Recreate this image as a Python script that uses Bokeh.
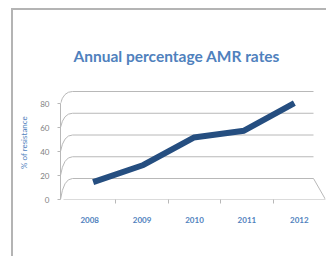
from bokeh.plotting import figure
from bokeh.models import Range1d, FixedTicker
from bokeh.embed import file_html
from bokeh.resources import INLINE

years = ["2008", "2009", "2010", "2011", "2012"]
amr_rates = [6, 21, 45, 51, 75]
y_ticks = [0, 20, 40, 60, 80]
title_text = "Annual percentage AMR rates"
y_label = "% of resistance"

# ---- geometry (canvas pixels; canvas origin = page (13, 10)) ----
W, H = 316, 248
FL, FR, FT, FB = 47, 312, 75, 189           # plot frame edges
FRONT = dict(x0=50, x1=312, y0=189, y1=93)  # px of cat -0.5 / 4.5 and value 0 / 80
BACK = dict(x0=59, x1=300, y0=168, y1=81)
MID = {k: (FRONT[k] + BACK[k]) / 2 for k in FRONT}
NCAT = len(years)
VMAX = y_ticks[-1]


def plane_ranges(g):
    sx = (g["x1"] - g["x0"]) / NCAT
    sy = (g["y0"] - g["y1"]) / VMAX
    xr = Range1d(-0.5 - (g["x0"] - FL) / sx, NCAT - 0.5 + (FR - g["x1"]) / sx)
    yr = Range1d(-(FB - g["y0"]) / sy, (g["y0"] - FT) / sy)
    return xr, yr


fx, fy = plane_ranges(FRONT)
bx, by = plane_ranges(BACK)
mx, my = plane_ranges(MID)


def to_front(g, x, v):
    """project a point of plane g into the front plane's data space"""
    sx = (g["x1"] - g["x0"]) / NCAT
    sy = (g["y0"] - g["y1"]) / VMAX
    px = g["x0"] + (x + 0.5) * sx
    py = g["y0"] - v * sy
    fsx = (FRONT["x1"] - FRONT["x0"]) / NCAT
    fsy = (FRONT["y0"] - FRONT["y1"]) / VMAX
    return fx.start + (px - FL) / fsx, (FB - py) / fsy


p = figure(width=W, height=H, x_range=fx, y_range=fy,
           output_backend="svg", toolbar_location=None,
           min_border_left=FL, min_border_right=W - FR,
           min_border_top=FT, min_border_bottom=H - FB)
p.extra_x_ranges = {"back": bx, "mid": mx}
p.extra_y_ranges = {"back": by, "mid": my}
p.styles = {"margin-left": "13px", "margin-top": "10px",
            "box-shadow": "-2px -2px 0 0 #b4b4b4"}
p.outline_line_color = None
p.grid.visible = False
p.background_fill_color = "white"
p.border_fill_color = "white"

p.title.text = title_text
p.title.text_font = "Lato"
p.title.text_font_style = "bold"
p.title.text_font_size = "15.5px"
p.title.text_color = "#4F81BD"
p.title.align = "left"
p.title.offset = 13
p.title.standoff = 41

GRID = "#b8b8b8"
# back wall gridlines
p.segment(x0=[-0.5] * len(y_ticks), x1=[NCAT - 0.5] * len(y_ticks), y0=y_ticks, y1=y_ticks,
          x_range_name="back", y_range_name="back", line_color=GRID, line_width=1)
# left side curves linking front ticks to back gridlines
x0s, y0s, x1s, y1s, cxs, cys = [], [], [], [], [], []
for v in y_ticks:
    bxv, byv = to_front(BACK, -0.5, v)
    x0s.append(fx.start); y0s.append(v)
    x1s.append(bxv); y1s.append(byv)
    cxs.append(fx.start + 0.25 * (bxv - fx.start)); cys.append(byv)
p.quadratic(x0=x0s, y0=y0s, x1=x1s, y1=y1s, cx=cxs, cy=cys, line_color=GRID, line_width=1)
# floor front edge and right floor edge
rbx, rby = to_front(BACK, NCAT - 0.5, 0)
p.segment(x0=[-0.5, NCAT - 0.5], y0=[0, 0], x1=[NCAT - 0.5, rbx], y1=[0, rby],
          line_color=GRID, line_width=1)

# data line (mid depth)
p.line(x=list(range(NCAT)), y=amr_rates, x_range_name="mid", y_range_name="mid",
       line_color="#254E80", line_width=6, line_join="round")

# axes
xa = p.xaxis[0]
xa.ticker = FixedTicker(ticks=list(range(NCAT)), minor_ticks=[i + 0.5 for i in range(NCAT - 1)])
xa.major_label_overrides = {i: y for i, y in enumerate(years)}
xa.axis_line_color = None
xa.major_tick_line_color = None
xa.major_tick_out = 0
xa.major_tick_in = 0
xa.minor_tick_line_color = GRID
xa.minor_tick_out = 4
xa.minor_tick_in = 0
xa.major_label_standoff = 13
xa.major_label_text_font = "Lato"
xa.major_label_text_font_style = "bold"
xa.major_label_text_font_size = "8px"
xa.major_label_text_color = "#4F81BD"

ya = p.yaxis[0]
ya.ticker = FixedTicker(ticks=y_ticks)
ya.bounds = (0, VMAX)
ya.axis_line_color = GRID
ya.major_tick_line_color = GRID
ya.major_tick_out = 3
ya.major_tick_in = 0
ya.minor_tick_line_color = None
ya.major_label_standoff = 8
ya.major_label_text_font = "Lato"
ya.major_label_text_font_size = "8px"
ya.major_label_text_color = "#7f7f7f"
ya.axis_label = y_label
ya.axis_label_text_font = "Lato"
ya.axis_label_text_font_style = "normal"
ya.axis_label_text_font_size = "8px"
ya.axis_label_text_color = "#4F81BD"
ya.axis_label_standoff = 8

open("out.html", "w").write(file_html(p, INLINE))
